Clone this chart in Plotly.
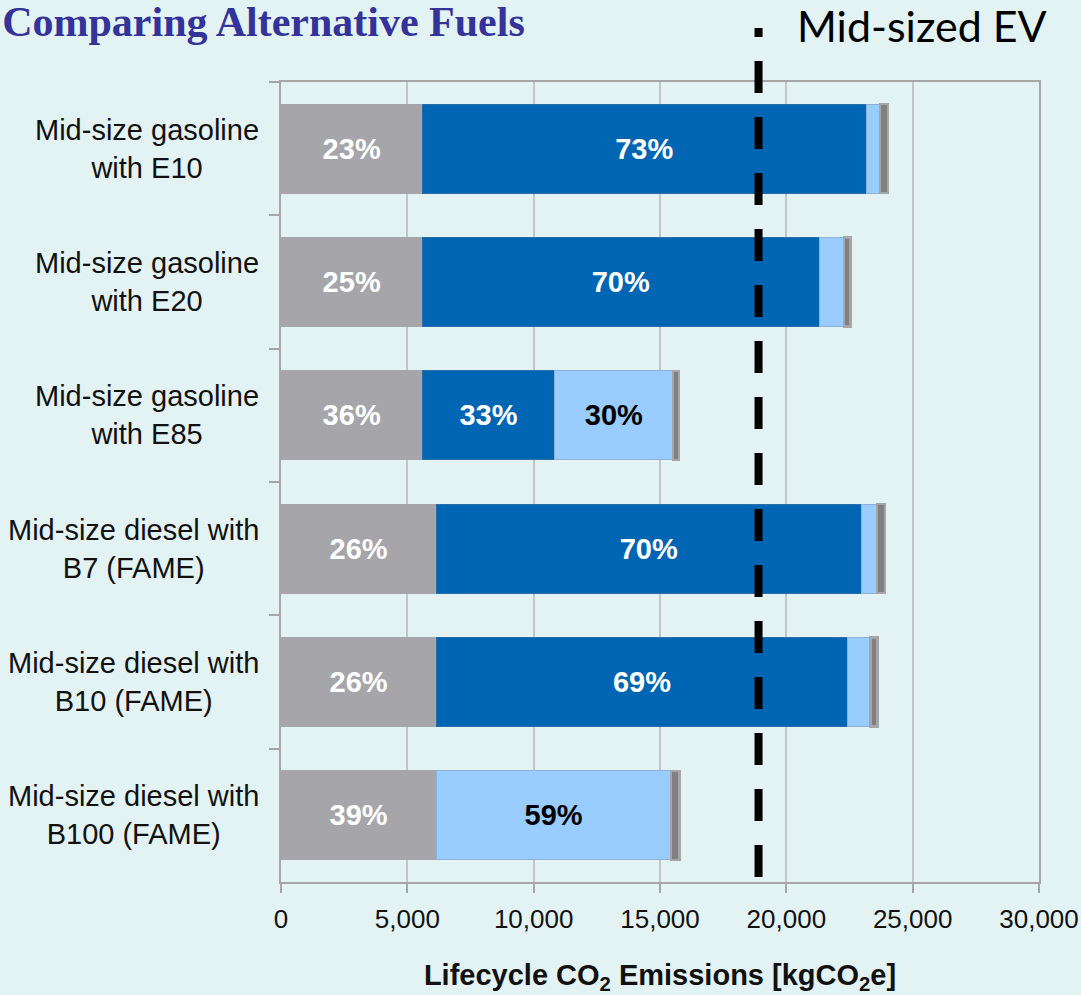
import plotly.graph_objects as go

# Lifecycle CO2 emissions per vehicle (kgCO2e), split by life-cycle stage
categories = [
    "Mid-size gasoline<br>with E10",
    "Mid-size gasoline<br>with E20",
    "Mid-size gasoline<br>with E85",
    "Mid-size diesel with<br>B7 (FAME)",
    "Mid-size diesel with<br>B10 (FAME)",
    "Mid-size diesel with<br>B100 (FAME)",
]
vehicle_production = [5600, 5600, 5600, 6150, 6150, 6150]
fuel_combustion = [17560, 15700, 5230, 16810, 16280, 0]
fuel_production = [540, 990, 4690, 630, 910, 9280]
end_of_life = [320, 250, 230, 310, 270, 350]

# Lifecycle emissions of a mid-sized electric vehicle, for reference
ev_lifecycle = 18900

x_ticks = [0, 5000, 10000, 15000, 20000, 25000, 30000]

totals = [sum(v) for v in zip(vehicle_production, fuel_combustion,
                              fuel_production, end_of_life)]


def share_labels(values):
    out = []
    for v, t in zip(values, totals):
        share = 100 * v / t
        out.append(f"{round(share)}%" if share >= 10 else "")
    return out


BG = "#E3F2F2"
AXIS_GREY = "#A6A6A6"
TEXT_FONT = "Liberation Sans, Arial, sans-serif"

segments = [
    ("Vehicle production", vehicle_production, "#A6A6AA", "#A6A6AA", "white"),
    ("Fuel combustion", fuel_combustion, "#0066B3", "#2A6EA8", "white"),
    ("Fuel production", fuel_production, "#99CCFF", "#8DB2D6", "black"),
    ("End of life", end_of_life, "#808080", "#A6A6A6", "black"),
]

fig = go.Figure()
for name, values, fill, edge, txt_color in segments:
    labels = share_labels(values) if name != "End of life" else [""] * len(values)
    fig.add_trace(go.Bar(
        name=name,
        y=categories,
        x=values,
        orientation="h",
        marker=dict(color=fill,
                    line=dict(color=edge,
                              width=2.5 if name == "End of life" else 1)),
        text=labels,
        textposition="inside",
        insidetextanchor="middle",
        textangle=0,
        textfont=dict(family=TEXT_FONT, size=29, color=txt_color,
                      weight="bold"),
        hoverinfo="skip",
    ))

# Category names, centred on two lines left of the axis
for cat in categories:
    fig.add_annotation(
        x=0, xref="paper", xanchor="right", xshift=-20,
        y=cat, yref="y", yanchor="middle",
        text=cat, align="center", showarrow=False,
        font=dict(family=TEXT_FONT, size=29, color="#111111"),
    )

# Dashed reference line for the electric vehicle
fig.add_shape(
    type="line", xref="x", yref="paper",
    x0=ev_lifecycle, x1=ev_lifecycle, y0=0.00625, y1=1.0675,
    line=dict(color="black", width=8, dash="32px,24px"),
    layer="above",
)
fig.add_annotation(
    x=0.678, xref="paper", xanchor="left",
    y=1.071, yref="paper", yanchor="middle",
    text="Mid-sized EV", showarrow=False,
    font=dict(family="Lato, Open Sans, sans-serif", size=43, color="black"),
)

fig.update_layout(
    barmode="stack",
    bargap=0.333,
    showlegend=False,
    width=1081,
    height=995,
    autosize=False,
    paper_bgcolor=BG,
    plot_bgcolor=BG,
    margin=dict(l=281, r=42, t=82, b=113),
    uniformtext=dict(minsize=29, mode="show"),
    title=dict(
        text="<b>Comparing Alternative Fuels</b>",
        x=0.002, xref="container", xanchor="left",
        y=0.979, yref="container", yanchor="middle",
        pad=dict(l=0, r=0, t=0, b=0),
        font=dict(family="Liberation Serif, Times New Roman, serif",
                  size=42, color="#333399"),
    ),
    xaxis=dict(
        range=[0, 30000],
        tickvals=x_ticks,
        tickformat=",d",
        automargin=False,
        showgrid=True, gridcolor="#C4C4C4", gridwidth=2,
        zeroline=False,
        ticks="outside", ticklen=9, tickwidth=2, tickcolor=AXIS_GREY,
        ticklabelstandoff=4,
        showline=True, linecolor=AXIS_GREY, linewidth=2, mirror=True,
        tickfont=dict(family=TEXT_FONT, size=26, color="#111111"),
        title=dict(
            text="<b>Lifecycle CO<sub>2</sub> Emissions [kgCO<sub>2</sub>e]</b>",
            standoff=36,
            font=dict(family=TEXT_FONT, size=29, color="#111111"),
        ),
    ),
    yaxis=dict(
        type="category",
        autorange="reversed",
        automargin=False,
        showticklabels=False,
        showgrid=False,
        ticks="outside", tickson="boundaries", ticklen=10, tickwidth=2,
        tickcolor=AXIS_GREY,
        showline=True, linecolor=AXIS_GREY, linewidth=2, mirror=True,
    ),
)

fig.write_html("out.html")
